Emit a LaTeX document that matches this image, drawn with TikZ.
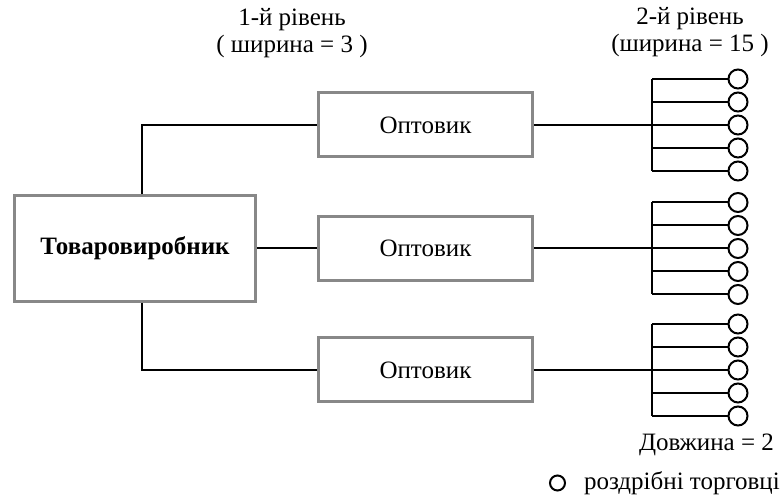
\documentclass[tikz,border=0pt]{standalone}
\usepackage{fontspec}
\setmainfont{Liberation Serif}
\definecolor{boxgray}{RGB}{136,136,136}

\begin{document}
\begin{tikzpicture}[x=0.5pt,y=-0.5pt,
    font=\fontsize{12.5}{13.5}\selectfont,
    firm/.style={draw=boxgray, line width=1.5pt, inner sep=0pt},
    link/.style={line width=1pt},
    shop/.style={circle, draw, line width=1pt, minimum size=9.5pt, inner sep=0pt}]
\useasboundingbox (0,0) rectangle (784,496);
% Producer
\node[firm, minimum width=120.5pt, minimum height=53pt, font=\fontsize{12.5}{13.5}\selectfont\bfseries] (prod) at (135,248.5) {Товаровиробник};
% Wholesalers
\foreach \w/\y in {w1/125,w2/248.5,w3/370} {
    \node[firm, minimum width=107pt, minimum height=32pt] (\w) at (425.5,\y) {Оптовик};
}
% Producer to wholesalers
\coordinate (tap) at (142,0);
\draw[link] (tap |- prod.north) |- (w1.west);
\draw[link] (tap |- prod.south) |- (w3.west);
\draw[link] (prod.east) -- (w2.west);
% Retailers
\foreach \w/\y in {w1/125,w2/248.5,w3/370} {
    \foreach \k in {1,...,5} {
        \node[shop] (\w r\k) at (738,{\y+23*(\k-3)}) {};
        \coordinate (\w j\k) at (652,{\y+23*(\k-3)});
        \draw[link] (\w j\k) -- (\w r\k.west);
    }
    \draw[link] (\w j1) -- (\w j5);
    \draw[link] (\w.east) -- (\w j3);
}
% Level labels
\node[align=center] (lev1) at (292,33) {1-й рівень\\( ширина = 3 )};
\node[align=center] (lev2) at (690,32) {2-й рівень\\(ширина = 15 )};
% Length and legend
\node[anchor=east] (len) at (781,445) {Довжина = 2};
\node[shop, minimum size=7.5pt] (legend) at (557.5,483) {};
\node[anchor=west] (legtext) at (577,483) {роздрібні торговці};
\end{tikzpicture}
\end{document}
